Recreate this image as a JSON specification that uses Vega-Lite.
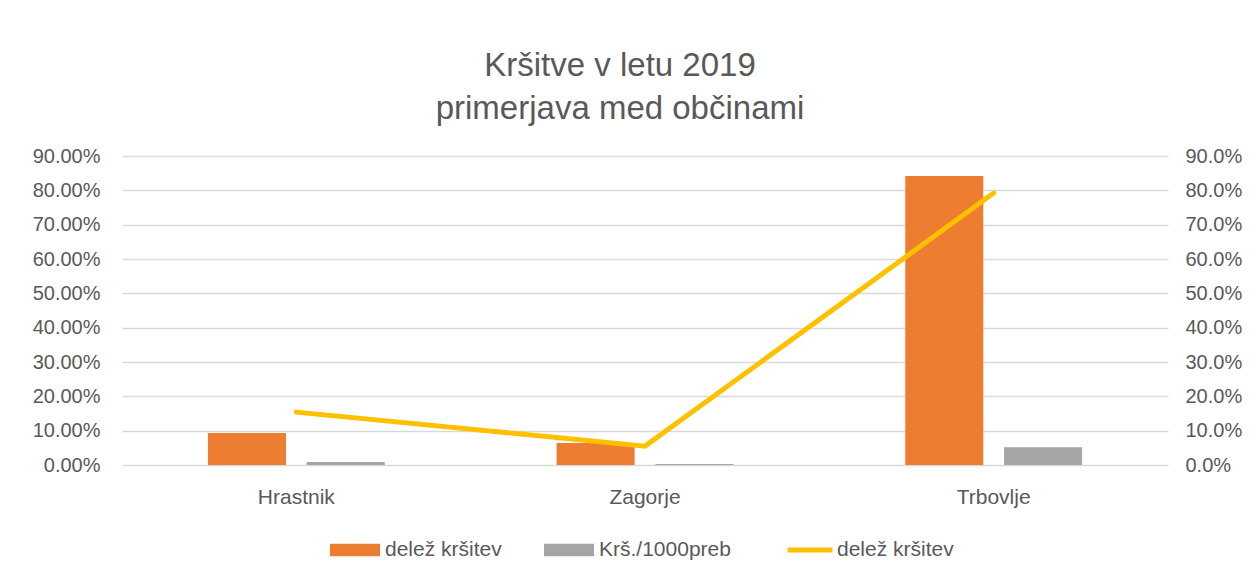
{
  "$schema": "https://vega.github.io/schema/vega-lite/v6.json",
  "autosize": {"type": "none"},
  "width": 1046,
  "height": 309,
  "padding": {"left": 122, "top": 156, "right": 88, "bottom": 115},
  "background": "white",
  "title": {
    "text": ["Kršitve v letu 2019", "primerjava med občinami"],
    "font": "Liberation Sans",
    "fontSize": 33,
    "fontWeight": "normal",
    "color": "#595959",
    "lineHeight": 43,
    "anchor": "middle",
    "dx": -25,
    "offset": 20
  },
  "config": {
    "view": {"stroke": null},
    "font": "Liberation Sans",
    "axis": {
      "labelFont": "Liberation Sans",
      "labelFontSize": 20,
      "labelColor": "#595959",
      "domain": false,
      "ticks": false,
      "gridColor": "#d9d9d9",
      "gridWidth": 1.5
    },
    "legend": {
      "labelFont": "Liberation Sans",
      "labelFontSize": 21,
      "labelColor": "#595959"
    }
  },
  "datasets": {
    "bars": [
      {"obcina": "Hrastnik", "serija": "delež kršitev", "vrednost": 0.093},
      {"obcina": "Hrastnik", "serija": "Krš./1000preb", "vrednost": 0.009},
      {"obcina": "Zagorje", "serija": "delež kršitev", "vrednost": 0.064},
      {"obcina": "Zagorje", "serija": "Krš./1000preb", "vrednost": 0.003},
      {"obcina": "Trbovlje", "serija": "delež kršitev", "vrednost": 0.842},
      {"obcina": "Trbovlje", "serija": "Krš./1000preb", "vrednost": 0.052}
    ],
    "line": [
      {"obcina": "Hrastnik", "serija": "delež kršitev", "vrednost": 0.154},
      {"obcina": "Zagorje", "serija": "delež kršitev", "vrednost": 0.055},
      {"obcina": "Trbovlje", "serija": "delež kršitev", "vrednost": 0.792}
    ]
  },
  "layer": [
    {
      "data": {"name": "bars"},
      "mark": {"type": "bar"},
      "encoding": {
        "x": {
          "field": "obcina",
          "type": "nominal",
          "sort": null,
          "scale": {"paddingInner": 0, "paddingOuter": 0},
          "axis": {"title": null, "labelAngle": 0, "labelPadding": 21, "labelFontSize": 21, "grid": false}
        },
        "xOffset": {
          "field": "serija",
          "type": "nominal",
          "sort": ["delež kršitev", "Krš./1000preb"],
          "scale": {"paddingInner": 0.21, "paddingOuter": 0.87}
        },
        "y": {
          "field": "vrednost",
          "type": "quantitative",
          "scale": {"domain": [0, 0.9]},
          "axis": {"title": null, "format": ".2%", "values": [0, 0.1, 0.2, 0.3, 0.4, 0.5, 0.6, 0.7, 0.8, 0.9], "labelPadding": 22, "orient": "left"}
        },
        "color": {
          "field": "serija",
          "type": "nominal",
          "scale": {"domain": ["delež kršitev", "Krš./1000preb"], "range": ["#ED7D31", "#A5A5A5"]},
          "legend": {
            "title": null,
            "orient": "none",
            "legendX": 208,
            "legendY": 369,
            "direction": "horizontal",
            "symbolType": "M-1,-0.25H1V0.25H-1Z",
            "symbolSize": 2500,
            "symbolStrokeWidth": 0,
            "columnPadding": 42,
            "labelOffset": 5
          }
        }
      }
    },
    {
      "data": {"name": "line"},
      "mark": {"type": "line", "strokeWidth": 5, "strokeCap": "round"},
      "encoding": {
        "x": {"field": "obcina", "type": "nominal", "sort": null},
        "y": {
          "field": "vrednost",
          "type": "quantitative",
          "scale": {"domain": [0, 0.9]},
          "axis": {"title": null, "format": ".1%", "values": [0, 0.1, 0.2, 0.3, 0.4, 0.5, 0.6, 0.7, 0.8, 0.9], "labelPadding": 17, "orient": "right", "grid": false}
        },
        "stroke": {
          "field": "serija",
          "type": "nominal",
          "scale": {"domain": ["delež kršitev"], "range": ["#FFC000"]},
          "legend": {
            "title": null,
            "orient": "none",
            "legendX": 663,
            "legendY": 369,
            "symbolType": "stroke",
            "symbolSize": 2025,
            "symbolStrokeWidth": 5,
            "labelOffset": 2
          }
        }
      }
    }
  ],
  "resolve": {"scale": {"y": "independent", "color": "independent"}}
}
